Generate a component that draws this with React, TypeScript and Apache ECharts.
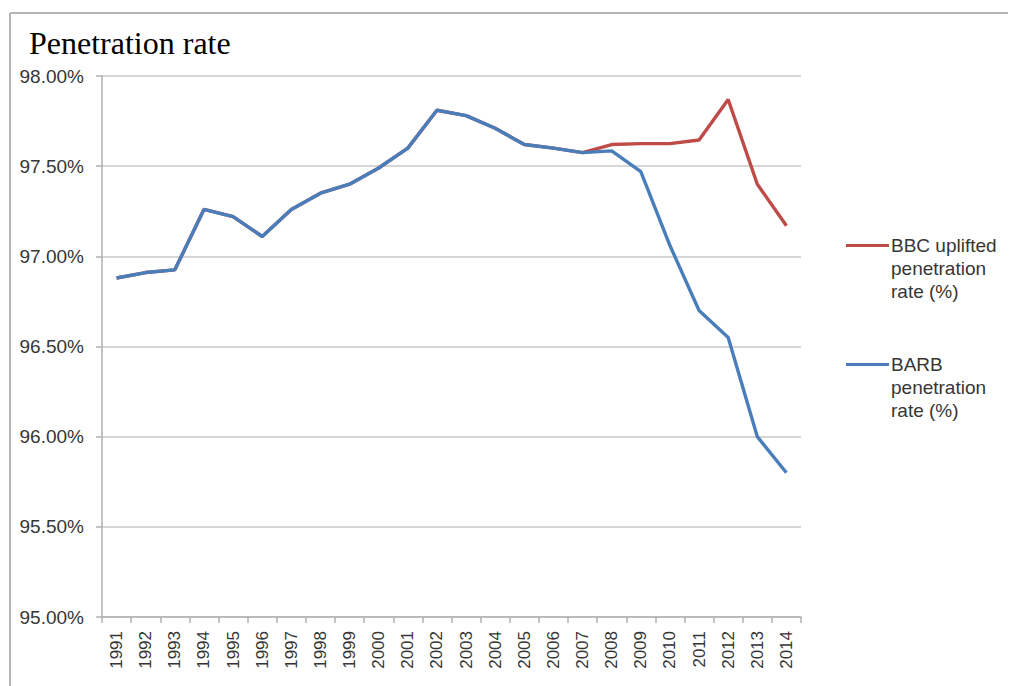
import React, { useEffect, useRef } from "react";
import * as echarts from "echarts";

const years = [
  "1991", "1992", "1993", "1994", "1995", "1996", "1997", "1998", "1999", "2000",
  "2001", "2002", "2003", "2004", "2005", "2006", "2007", "2008", "2009", "2010",
  "2011", "2012", "2013", "2014",
];

const barbRate = [
  96.88, 96.91, 96.925, 97.26, 97.22, 97.11, 97.26, 97.35, 97.40, 97.49,
  97.60, 97.81, 97.78, 97.71, 97.62, 97.60, 97.575, 97.585, 97.47, 97.06,
  96.70, 96.55, 96.00, 95.80,
];

const bbcUpliftedRate = [
  96.88, 96.91, 96.925, 97.26, 97.22, 97.11, 97.26, 97.35, 97.40, 97.49,
  97.60, 97.81, 97.78, 97.71, 97.62, 97.60, 97.575, 97.62, 97.625, 97.625,
  97.645, 97.87, 97.40, 97.17,
];

const seriesNames = ["BBC uplifted\npenetration\nrate (%)", "BARB\npenetration\nrate (%)"];
const titleText = "Penetration rate";
const yMin = 95;
const yMax = 98;
const yStep = 0.5;

export default function App() {
  const ref = useRef<HTMLDivElement>(null);
  useEffect(() => {
    if (!ref.current) return;
    const chart = echarts.init(ref.current, undefined, { renderer: "svg" });
    const labelColor = "#363636";
    const gridColor = "#c9c9c9";
    chart.setOption({
      animation: false,
      backgroundColor: "#ffffff",
      title: {
        text: titleText,
        left: 24,
        top: 22,
        textStyle: {
          fontFamily: "Liberation Serif, Times New Roman, serif",
          fontSize: 32,
          fontWeight: "normal",
          color: "#000000",
        },
      },
      graphic: [
        {
          type: "line",
          shape: { x1: 10, y1: 13, x2: 1008, y2: 13 },
          style: { stroke: "#b5b5b5", lineWidth: 2 },
          silent: true,
        },
        {
          type: "line",
          shape: { x1: 10, y1: 13, x2: 10, y2: 686 },
          style: { stroke: "#b5b5b5", lineWidth: 2 },
          silent: true,
        },
      ],
      legend: {
        orient: "vertical",
        left: 841,
        top: 183,
        itemGap: 4,
        itemWidth: 43,
        itemHeight: 3,
        icon: "rect",
        data: seriesNames,
        formatter: (name: string) => "\n\n" + name,
        textStyle: {
          fontFamily: "Liberation Sans, Arial, sans-serif",
          fontSize: 19,
          color: labelColor,
          lineHeight: 23,
          padding: [0, 0, 0, -3],
        },
      },
      grid: { left: 102, right: 210, top: 76, bottom: 69 },
      xAxis: {
        type: "category",
        data: years,
        boundaryGap: true,
        axisLine: { show: true, lineStyle: { color: "#b0b0b0", width: 1.5 } },
        axisTick: { show: true, length: 6, lineStyle: { color: "#b0b0b0", width: 1.5 } },
        axisLabel: {
          rotate: 90,
          interval: 0,
          margin: 14,
          fontFamily: "Liberation Sans, Arial, sans-serif",
          fontSize: 17,
          color: labelColor,
        },
        splitLine: { show: false },
      },
      yAxis: {
        type: "value",
        min: yMin,
        max: yMax,
        interval: yStep,
        axisLine: { show: true, lineStyle: { color: "#b0b0b0", width: 1.5 } },
        axisTick: { show: true, length: 6, lineStyle: { color: "#b0b0b0", width: 1.5 } },
        axisLabel: {
          margin: 18,
          fontFamily: "Liberation Sans, Arial, sans-serif",
          fontSize: 19,
          color: labelColor,
          formatter: (v: number) => v.toFixed(2) + "%",
        },
        splitLine: { show: true, lineStyle: { color: gridColor, width: 1.5 } },
      },
      series: [
        {
          name: seriesNames[0],
          type: "line",
          data: bbcUpliftedRate,
          showSymbol: false,
          symbol: "none",
          lineStyle: { color: "#be4b48", width: 3.4 },
          itemStyle: { color: "#be4b48" },
          z: 2,
        },
        {
          name: seriesNames[1],
          type: "line",
          data: barbRate,
          showSymbol: false,
          symbol: "none",
          lineStyle: { color: "#4a7ebb", width: 3.4 },
          itemStyle: { color: "#4a7ebb" },
          z: 3,
        },
      ],
    });
    return () => chart.dispose();
  }, []);
  return (
    <div
      ref={ref}
      style={{ position: "absolute", left: 0, top: 0, width: 1011, height: 686 }}
    />
  );
}
